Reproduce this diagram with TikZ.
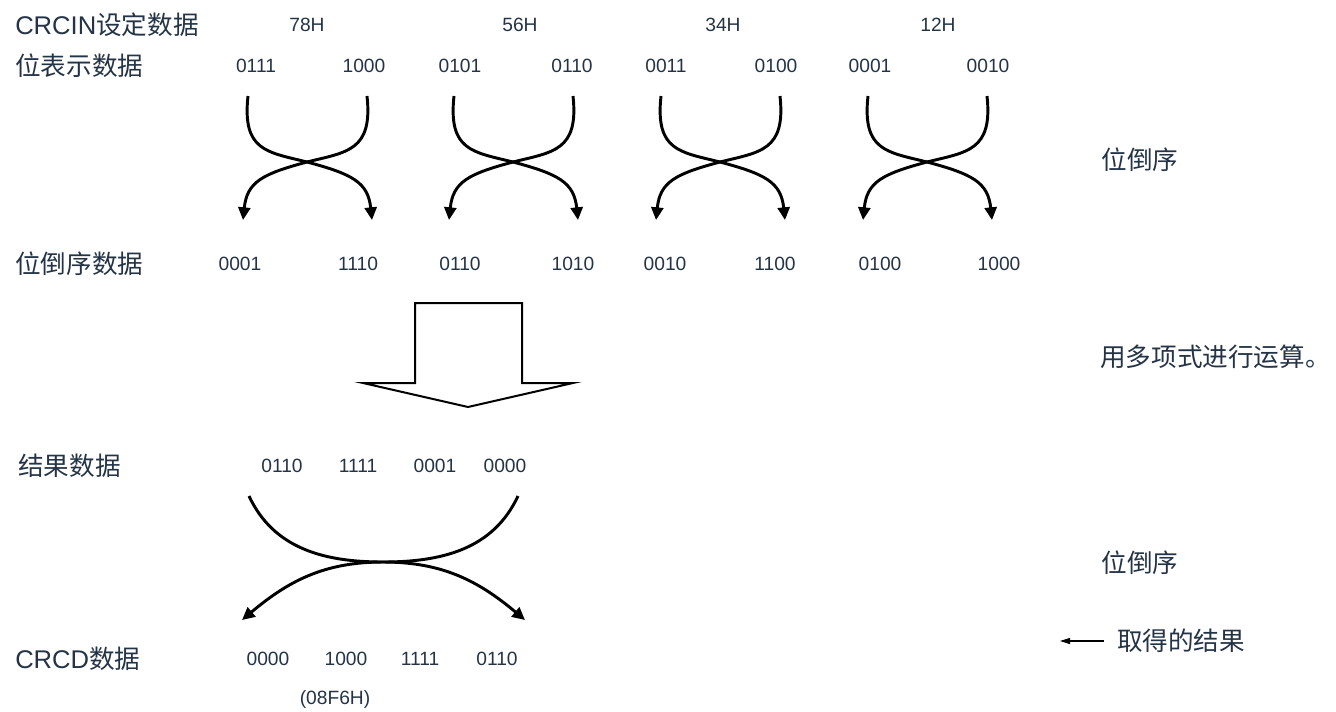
\documentclass[tikz,border=0pt]{standalone}
\usepackage{fontspec}
\setmainfont{Liberation Sans}
\newfontfamily\cjk{Noto Sans CJK SC}
\usetikzlibrary{arrows.meta}
\definecolor{CRCText}{HTML}{243446}

\begin{document}
\begin{tikzpicture}[x=0.75pt,y=0.75pt,
  lbl/.style={anchor=west,inner sep=0pt,text=CRCText,font=\fontsize{19.2}{22}\selectfont},
  note/.style={inner sep=0pt,text=CRCText,font=\fontsize{19.2}{22}\selectfont\cjk},
  bits/.style={inner sep=0pt,text=CRCText,font=\fontsize{14.4}{16}\selectfont},
  flipline/.style={-{Triangle[length=9.5pt,width=9pt]},line width=2.2pt}]
\useasboundingbox (0,0) rectangle (1336,-711);

% row labels
\node[lbl] (inlbl) at (15,-25) {CRCIN{\cjk 设定数据}};
\node[lbl] (bitlbl) at (15,-66) {\cjk 位表示数据};
\node[lbl] (revlbl) at (15,-264) {\cjk 位倒序数据};
\node[lbl] (reslbl) at (18,-466) {\cjk 结果数据};
\node[lbl] (crcdlbl) at (15,-659) {CRCD{\cjk 数据}};

% notes on the right
\node[note] (rev1) at (1140,-160) {位倒序};
\node[note,anchor=west] (poly) at (1100,-357) {用多项式进行运算。};
\node[note] (rev2) at (1140,-563) {位倒序};
\node[note] (got) at (1181,-641) {取得的结果};
\coordinate (gotend) at (1060,-641);
\draw[-{Triangle[length=7.5pt,width=4.5pt]},line width=0.8pt] ([xshift=-9.75pt]got.west) -- (gotend);

% input data
\foreach \n/\x/\t in {h1/307/78H,h2/520/56H,h3/723/34H,h4/938/12H}
  \node[bits] (\n) at (\x,-25) {\t};
\foreach \n/\x/\t in {b1/256/0111,b2/364/1000,b3/460/0101,b4/572/0110,b5/666/0011,b6/776/0100,b7/870/0001,b8/988/0010}
  \node[bits] (\n) at (\x,-66) {\t};
\foreach \n/\x/\t in {r1/240/0001,r2/358/1110,r3/460/0110,r4/573/1010,r5/665/0010,r6/775/1100,r7/880/0100,r8/999/1000}
  \node[bits] (\n) at (\x,-264) {\t};

% bit reversal of each byte
\foreach \i/\cx in {1/307,2/513,3/720,4/927}{
  \coordinate (sl\i) at (\cx-59,-96);
  \coordinate (sr\i) at (\cx+60,-96);
  \coordinate (x\i) at (\cx,-162);
  \coordinate (tl\i) at (\cx-64,-220);
  \coordinate (tr\i) at (\cx+65,-220);
  \draw[flipline] (sl\i) .. controls +(-6,-55) and +(-40,10) .. (x\i) .. controls +(45,-12) and +(-4,38) .. (tr\i);
  \draw[flipline] (sr\i) .. controls +(6,-55) and +(40,10) .. (x\i) .. controls +(-45,-12) and +(4,38) .. (tl\i);
}

% block arrow
\draw[line width=1.5pt] (415,-383) -- (415,-303) -- (522,-303) -- (522,-383) -- (573,-383) -- (468,-407) -- (363,-383) -- cycle;

% result
\foreach \n/\x/\t in {e1/282/0110,e2/358/1111,e3/435/0001,e4/505/0000}
  \node[bits] (\n) at (\x,-466) {\t};
\coordinate (bl) at (249,-496);
\coordinate (br) at (518,-496);
\coordinate (bx) at (383,-562);
\coordinate (btl) at (242,-620);
\coordinate (btr) at (525,-620);
\draw[flipline] (bl) to[out=-65,in=180] (bx) to[out=0,in=140] (btr);
\draw[flipline] (br) to[out=-115,in=0] (bx) to[out=180,in=40] (btl);

% CRCD data
\foreach \n/\x/\t in {c1/268/0000,c2/346/1000,c3/420/1111,c4/497/0110}
  \node[bits] (\n) at (\x,-659) {\t};
\node[bits] (hexval) at (335,-700) {(08F6H)};
\end{tikzpicture}
\end{document}
